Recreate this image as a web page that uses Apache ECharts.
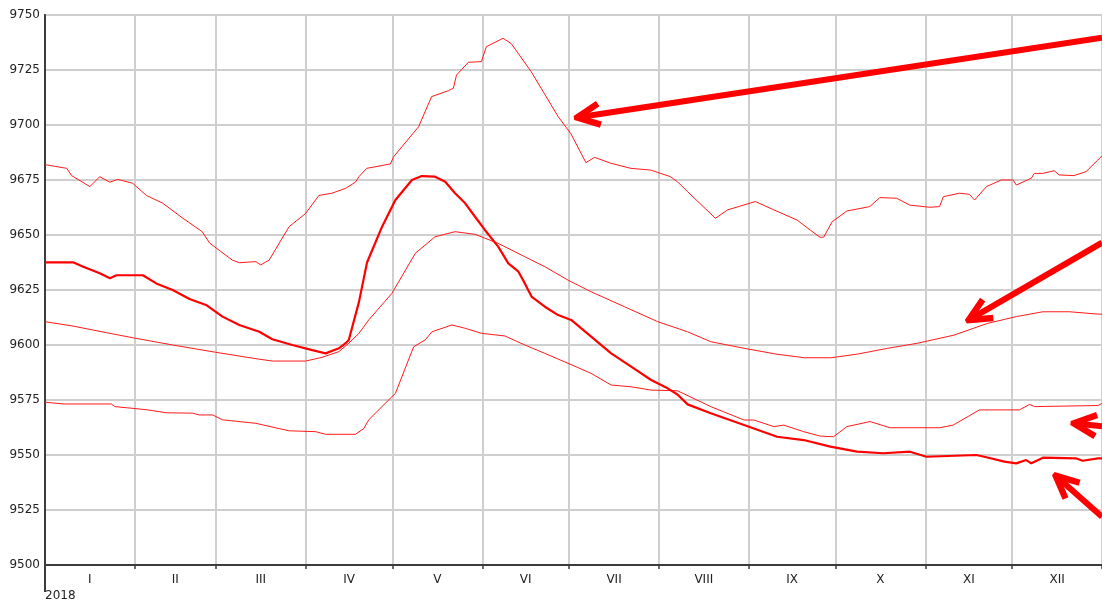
<!DOCTYPE html>
<html>
<head>
<meta charset="utf-8">
<script src="https://cdn.jsdelivr.net/npm/echarts@6/dist/echarts.min.js"></script>
<style>html,body{margin:0;padding:0;background:#fff;}#c{width:1102px;height:605px;}</style>
</head>
<body>
<div id="c"></div>
<script>
// x values are day-of-year 2018 (0 = 1 Jan)
const MONTHS = ['I','II','III','IV','V','VI','VII','VIII','IX','X','XI','XII'];
const MONTH_START_DAYS = [0,31,59,90,120,151,181,212,243,273,304,334,365];
const MONTH_MID_DAYS = [15.5,45,74.5,105,135.5,166,196.5,227.5,258,288.5,319,349.5];
const YEAR_LABEL = '2018';
const Y_MIN = 9500, Y_MAX = 9750, Y_STEP = 25;

const maxSeries = [[0,9682],[7.5,9680.3],[9.2,9677],[15.5,9672],[18.9,9676.5],[22.4,9674],[25.1,9675.3],[30.3,9673.5],[35,9668],[40.6,9664.5],[47.5,9657.7],[54.3,9651.5],[56.8,9646.4],[60.2,9643],[64.7,9638.6],[67.1,9637.4],[72.8,9637.9],[74.5,9636.4],[77.4,9638.6],[84.3,9653.8],[90,9659.8],[94.6,9668],[99.1,9669],[103.8,9671.2],[107.2,9674],[108.4,9676.5],[111.1,9680.3],[119.3,9682.3],[120.4,9685.6],[129,9699.2],[133.5,9712.9],[139.3,9715.6],[141,9716.7],[142.1,9722.7],[146.2,9728.5],[150.7,9728.8],[152.4,9735.6],[158.2,9739.4],[161,9737],[167.9,9724.2],[177.2,9703.8],[181.6,9696],[186.8,9682.9],[189.8,9685.3],[195.4,9682.6],[202.3,9680.3],[209.2,9679.5],[216,9676.5],[218.4,9674.2],[221.9,9669.7],[231.5,9657.6],[235.7,9661.4],[245.3,9665.2],[251.7,9661.4],[259.7,9656.8],[264.2,9652.3],[267.6,9649],[268.9,9649],[271.8,9656],[276.9,9660.9],[284.8,9662.9],[288.3,9667],[294.1,9666.7],[298.6,9663.6],[305.5,9662.6],[308.9,9662.9],[310.2,9667.4],[315.8,9669],[319.2,9668.5],[321,9665.9],[325.1,9672],[330.2,9675],[334.3,9675],[335.4,9672.7],[340.6,9675.8],[341.6,9678],[344.6,9678],[348.5,9679.2],[350.2,9677.3],[355.3,9677],[359.5,9678.8],[363.5,9684],[365,9686]];

const actualSeries = [[0,9637.6],[9.7,9637.6],[13.2,9635.6],[18.9,9632.6],[22.4,9630.3],[24.7,9631.7],[33.8,9631.7],[38.4,9628],[44.1,9625],[49.9,9620.9],[55.6,9618.2],[61.3,9612.9],[67.1,9609.1],[74,9606],[78.5,9602.6],[85.4,9600],[92.3,9597.7],[96.9,9596.2],[101.5,9598.5],[103.8,9600.8],[104.9,9602.3],[108.4,9619.5],[111.2,9637.5],[116.4,9653.8],[121,9665.9],[126.7,9675],[130.1,9676.8],[134.7,9676.5],[138.2,9674.2],[141.6,9669],[145.1,9664.4],[148.5,9658.3],[151.9,9652.3],[156.5,9644.7],[160,9637.1],[163.4,9633.5],[165.7,9628],[168,9622],[172.6,9617.4],[177.2,9613.6],[181.7,9611.4],[188.6,9603.8],[195.5,9596.2],[202.4,9590.2],[209.3,9584.1],[215,9580.3],[218.4,9577.5],[221.9,9573],[229.9,9569],[241.4,9563.6],[252.8,9558.3],[262,9556.8],[271.2,9553.8],[280.4,9551.5],[289.5,9550.8],[298.7,9551.5],[304.4,9549.2],[321.6,9550],[325.1,9549],[331.3,9547],[335.4,9546.2],[338.8,9547.7],[340.6,9546.2],[344.6,9548.8],[356,9548.5],[358.3,9547.4],[363.6,9548.5],[365,9548.5]];

const meanSeries = [[0,9610.6],[9.7,9608.6],[21.2,9605.6],[30.3,9603.3],[44.1,9600],[58.9,9596.7],[71.7,9594],[78.5,9592.7],[90,9592.7],[95.7,9594.4],[101.5,9597],[104.9,9600.8],[108.4,9605.3],[111.8,9611.4],[119.8,9623.5],[127.9,9641.7],[134.7,9649.2],[141.6,9651.5],[148.5,9650.3],[156.5,9646.2],[165.7,9640.1],[172.6,9635.6],[180.6,9629.5],[188.6,9624.2],[200.1,9617.4],[211.6,9610.6],[221.9,9606],[229.9,9601.5],[241.4,9598.5],[252.8,9595.8],[262.3,9594.2],[271.5,9594.2],[280.7,9595.9],[291,9598.5],[301.3,9600.8],[313.9,9604.5],[325.4,9609.8],[335.4,9612.9],[344.6,9615.1],[353.8,9615.1],[363,9614.1],[365,9614]];

const minSeries = [[0,9574],[6.3,9573.2],[22.9,9573.2],[24.1,9572],[30.4,9571.2],[35.5,9570.5],[41.9,9569.2],[51,9569],[53.3,9568.2],[57.9,9568.2],[61.3,9566],[72.8,9564.4],[84.3,9561],[93.5,9560.6],[96.9,9559.4],[107.2,9559.4],[110.1,9562],[111.8,9566],[119.8,9576.5],[121,9578],[127.3,9599.2],[131.3,9602.3],[133.6,9606],[140.5,9609.1],[145.1,9607.6],[150.8,9605.3],[158.8,9604.1],[165.7,9600],[172.6,9596.2],[180.6,9591.7],[188.6,9587.1],[195.5,9581.8],[202.4,9581],[209.3,9579.5],[218.4,9579.2],[229.9,9572],[241.4,9565.9],[244.8,9565.9],[251.7,9562.9],[255.1,9563.6],[262,9560.6],[267.7,9558.6],[272.3,9558.3],[276.9,9562.9],[284.9,9565.2],[291.8,9562.4],[309,9562.4],[313.6,9563.6],[322.7,9570.5],[336.5,9570.5],[340,9573],[341.7,9572],[363.6,9572.5],[365,9573.5]];

// annotation arrows: [from, to] in data coordinates
const arrows = [
  [[365, 9739.7], [183.7, 9703.4]],
  [[365, 9646.5], [318.9, 9611.3]],
  [[365, 9563.1], [355.2, 9564.4]],
  [[365, 9521.9], [349.0, 9540.6]]
];

const ARROW_HEAD = 'path://M-1.91,4.1L1.91,4.1L12.68,27.19L7.24,29.73L0,14.2L-7.24,29.73L-12.68,27.19Z';
const FONT = 'DejaVu Sans';
const DARK = '#3c3c3c';
const GRIDC = '#cfcfcf';

const chart = echarts.init(document.getElementById('c'), null, {renderer: 'canvas'});
const thin = (data, extra) => Object.assign({
  type: 'line', data: data, showSymbol: false, symbol: 'none', smooth: false,
  lineStyle: {color: '#ff1a1a', width: 1}, itemStyle: {color: '#ff1a1a'},
  animation: false, silent: true, z: 3
}, extra || {});

chart.setOption({
  animation: false,
  backgroundColor: '#ffffff',
  grid: {left: 45, top: 15, right: -4, bottom: 40, show: true, borderColor: DARK, borderWidth: 2, backgroundColor: 'transparent'},
  xAxis: [{
    type: 'value', min: 0, max: 365, position: 'bottom',
    axisLine: {show: true, onZero: false, lineStyle: {color: DARK, width: 2}},
    axisTick: {show: true, customValues: MONTH_START_DAYS, length: 4, lineStyle: {color: DARK, width: 1.5}},
    axisLabel: {show: true, customValues: MONTH_MID_DAYS, margin: 9, color: '#222', fontFamily: FONT, fontSize: 12,
      formatter: v => MONTHS[MONTH_MID_DAYS.indexOf(v)] || ''},
    splitLine: {show: true, lineStyle: {color: GRIDC, width: 2}}
  }, {
    type: 'value', min: 0, max: 365, position: 'bottom',
    axisLine: {show: false},
    axisTick: {show: true, customValues: [0], length: 27, lineStyle: {color: DARK, width: 2}},
    axisLabel: {show: true, customValues: [0], margin: 25, align: 'left', color: '#222', fontFamily: FONT, fontSize: 12,
      formatter: () => YEAR_LABEL},
    splitLine: {show: false}
  }],
  yAxis: {
    type: 'value', min: Y_MIN, max: Y_MAX, interval: Y_STEP,
    axisLine: {show: true, lineStyle: {color: DARK, width: 2}},
    axisTick: {show: false},
    axisLabel: {margin: 5, color: '#222', fontFamily: FONT, fontSize: 12, formatter: v => String(v)},
    splitLine: {show: true, lineStyle: {color: GRIDC, width: 2}}
  },
  series: [
    thin(maxSeries),
    thin(meanSeries),
    thin(minSeries),
    thin(actualSeries, {lineStyle: {color: '#ff0000', width: 2.2}, z: 4}),
    {
      type: 'line', data: [], silent: true, animation: false, z: 6,
      markLine: {
        silent: true, animation: false,
        symbol: ['none', ARROW_HEAD],
        symbolSize: 27,
        label: {show: false},
        emphasis: {disabled: true},
        lineStyle: {color: '#ff0000', width: 6, type: 'solid', cap: 'butt', opacity: 1},
        itemStyle: {color: '#ff0000'},
        data: arrows.map(a => [
          {coord: a[0], symbol: 'none'},
          {coord: a[1], symbol: ARROW_HEAD, symbolSize: 27, symbolOffset: [0, 10.4], itemStyle: {color: '#ff0000'}}
        ])
      }
    }
  ]
});
</script>
</body>
</html>
